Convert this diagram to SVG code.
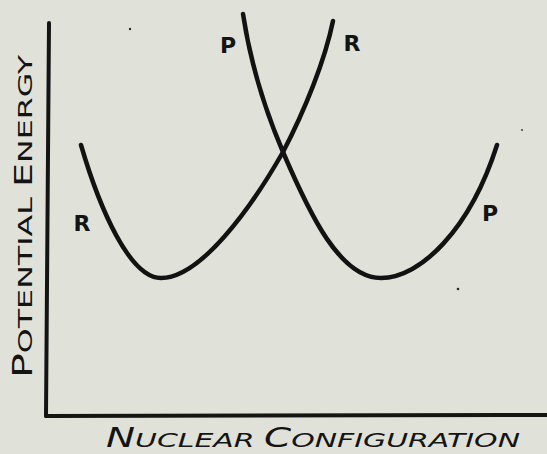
<svg xmlns="http://www.w3.org/2000/svg" width="547" height="454" viewBox="0 0 547 454">
<style>
.axis{fill:none;stroke:#141414;stroke-width:4;stroke-linecap:round}
.curve{fill:none;stroke:#121212;stroke-width:4.5;stroke-linecap:round}
.lbl{font-family:"DejaVu Sans",sans-serif;font-size:22px;font-weight:bold;fill:#141414;text-anchor:middle}
.ttl{font-family:"DejaVu Sans",sans-serif;fill:#141414}
.speck{fill:#2a2a2a}
</style>
<rect width="547" height="454" fill="#e0e2d9"/>
<g id="axes">
<path class="axis" d="M49,23 L46,416"/>
<path class="axis" d="M46,416 L547,415"/>
</g>
<g id="connectors">
<path id="curve-R" class="curve" d="M81,145 C100,210 130,278 161,278 C200,278 250,210 283,152 C305,110 325,60 333,21"/>
<path id="curve-P" class="curve" d="M243,14 C250,60 265,110 283,152 C310,215 340,278 381,278 C420,278 470,230 497,145"/>
</g>
<g id="label-P-top"><text class="lbl" x="228" y="53">P</text></g>
<g id="label-R-top"><text class="lbl" x="352" y="51">R</text></g>
<g id="label-R-left"><text class="lbl" x="82" y="231">R</text></g>
<g id="label-P-right"><text class="lbl" x="490" y="221">P</text></g>
<g id="y-title"><text class="ttl" transform="translate(32,378) rotate(-90)" font-size="20" textLength="323" lengthAdjust="spacingAndGlyphs"><tspan font-size="26">P</tspan>OTENTIAL <tspan font-size="24">E</tspan>NERGY</text></g>
<g id="x-title"><text class="ttl" x="106" y="447" font-size="20" font-style="italic" textLength="414" lengthAdjust="spacingAndGlyphs"><tspan font-size="26">N</tspan>UCLEAR  <tspan font-size="26">C</tspan>ONFIGURATION</text></g>
<g id="specks">
<circle class="speck" cx="130" cy="29" r="1.2"/>
<circle class="speck" cx="458" cy="289" r="1.3"/>
<circle class="speck" cx="522" cy="130" r="0.9"/>
</g>
</svg>
